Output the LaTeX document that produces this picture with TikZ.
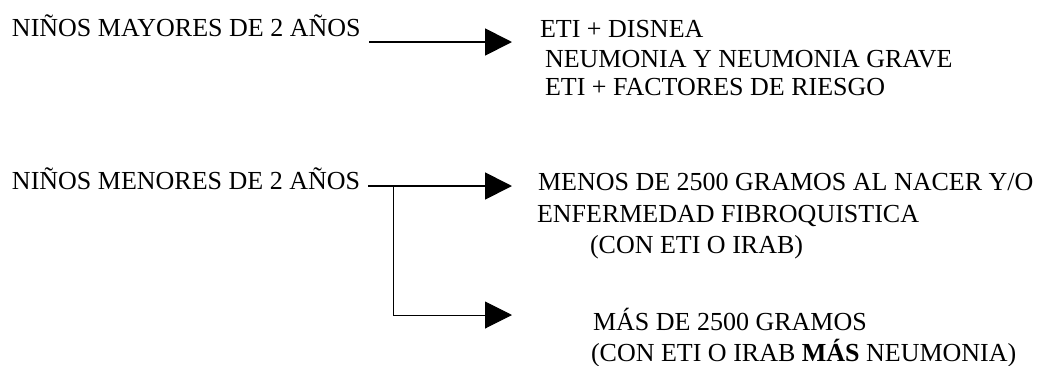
\documentclass[tikz,border=0pt]{standalone}
\usepackage{fontspec}
\setmainfont{Liberation Serif}
\usetikzlibrary{arrows.meta}
\tikzset{
  txt/.style={anchor=base west, inner sep=0pt, outer sep=0pt, font=\fontsize{26}{30}\selectfont},
  thickconn/.style={line width=1.8pt, -{Triangle[length=27pt,width=27pt]}},
  thinconn/.style={line width=1pt},
  thinarrow/.style={line width=1pt, -{Triangle[length=27pt,width=27pt]}}
}
\begin{document}
\begin{tikzpicture}[x=1pt,y=-1pt]
\useasboundingbox (0,0) rectangle (1045,365);
% row 1
\node[txt] (may) at (12,36) {NIÑOS MAYORES DE 2 AÑOS};
\node[txt] (r1a) at (540,37) {ETI + DISNEA};
\node[txt] (r1b) at (545,67) {NEUMONIA Y NEUMONIA GRAVE};
\node[txt] (r1c) at (545,95) {ETI + FACTORES DE RIESGO};
% row 2
\node[txt] (men) at (12,189) {NIÑOS MENORES DE 2 AÑOS};
\node[txt] (r2a) at (538,190) {MENOS DE 2500 GRAMOS AL NACER Y/O};
\node[txt] (r2b) at (537,222) {ENFERMEDAD FIBROQUISTICA};
\node[txt] (r2c) at (590,253) {(CON ETI O IRAB)};
\node[txt] (r3a) at (593,330) {MÁS DE 2500 GRAMOS};
\node[txt] (r3b) at (591,361) {(CON ETI O IRAB \textbf{MÁS} NEUMONIA)};
% connectors
\coordinate (s1) at (369,42);
\coordinate (t1) at (512,42);
\coordinate (s2) at (368,186);
\coordinate (br) at (393,186);
\coordinate (t2) at (512,186);
\coordinate (t3) at (512,315);
\draw[thickconn] (s1) -- (t1);
\draw[thickconn] (s2) -- (t2);
\draw[thinarrow] (br) |- (t3);
\end{tikzpicture}
\end{document}
